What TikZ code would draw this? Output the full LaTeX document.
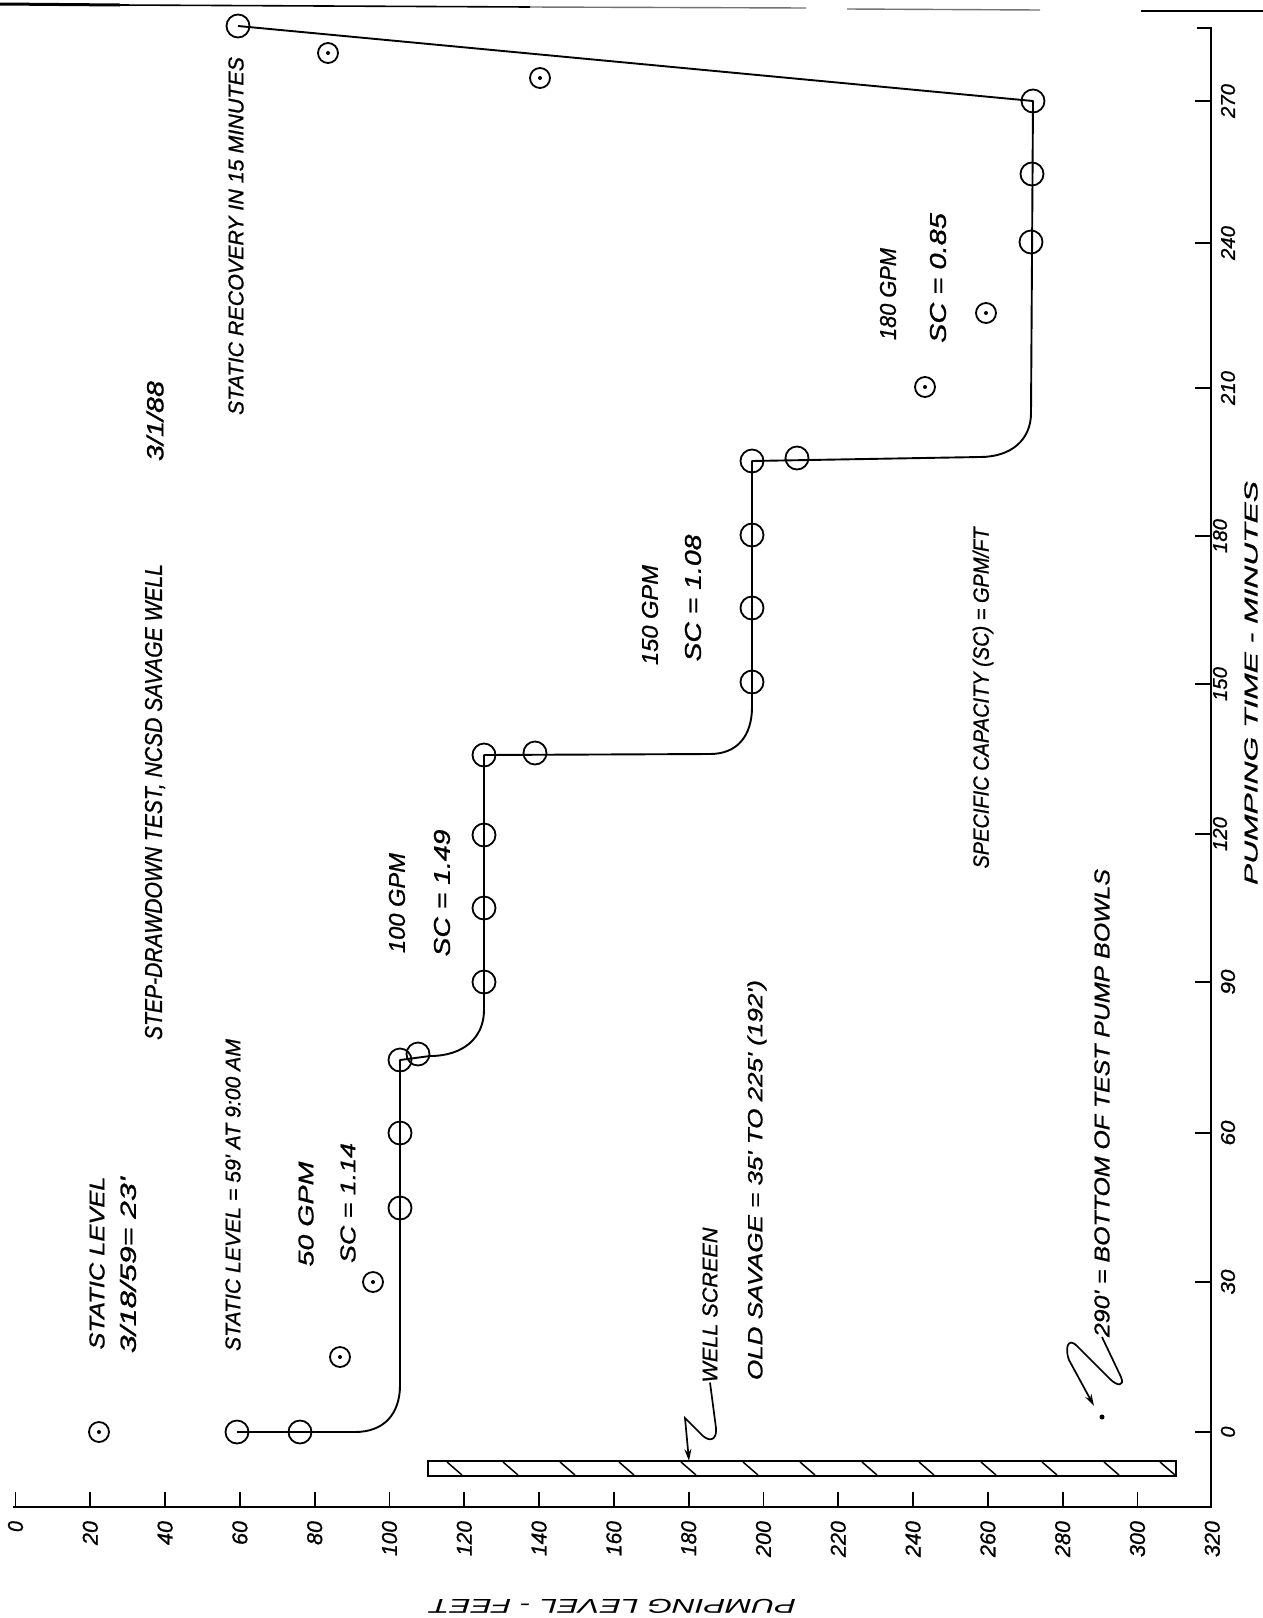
\documentclass[tikz,border=0pt]{standalone}
\usepackage{fontspec}
\usepackage{graphicx}
\setmainfont{Liberation Sans}
\newfontfamily\handfont{Liberation Sans}[FakeBold=0.9]
\usetikzlibrary{arrows.meta}
\newcommand\handtxt[3]{\resizebox{#1pt}{#2pt}{\handfont\itshape #3}}
\newcommand\plaintxt[3]{\resizebox{#1pt}{#2pt}{\itshape #3}}
\begin{document}
\begin{tikzpicture}[x=1pt,y=-1pt,
  pc/.style={circle,draw,line width=1.8pt,minimum size=23pt,inner sep=0pt},
  dc/.style={circle,draw,line width=1.8pt,minimum size=20pt,inner sep=0pt,
     path picture={\fill (path picture bounding box.center) circle (2pt);}},
  dotmark/.style={circle,fill,minimum size=5pt,inner sep=0pt},
  txt/.style={inner sep=0pt,outer sep=0pt,rotate=90},
  stepline/.style={line width=1.9pt,line join=round},
  axis/.style={line width=2.5pt},
  tick/.style={line width=1.9pt},
  hook/.style={line width=1.7pt,-{Stealth[length=12pt,width=7pt]}}]
\useasboundingbox (0,0) rectangle (1263,1618);
\fill[white] (0,0) rectangle (1263,1618);

% scan edge at top
\draw[line width=3pt] (0,4) -- (120,5);
\draw[line width=1.6pt] (120,5) -- (530,7);
\draw[line width=1.4pt,black!55] (530,7) -- (806,8);
\draw[line width=1.4pt,black!55] (847,9) -- (1040,10);
\draw[line width=2pt] (1141,11) -- (1263,11);

% axes
\draw[axis] (13,1507) -- (1211,1507) -- (1211,28) -- (1197,28);
\foreach \k in {0,...,15} {
  \draw[tick] ({15.5+74.8*\k},1492) -- ({15.5+74.8*\k},1507);
}
\foreach \v/\x/\L in {0/15.5/11,20/90.3/24,40/165.1/24,60/239.9/24,80/314.7/24,100/389.5/35,120/464.3/35,140/539.1/35,160/613.9/35,180/688.7/35,200/763.5/36,220/838.3/36,240/913.1/36,260/987.9/36,280/1062.7/36,300/1137.5/36,320/1212.3/36} {
  \node[txt,anchor=east] (lv\v) at (\x,1521) {\handtxt{\L}{15}{\v}};
}
\foreach \t/\y/\L/\xx in {0/1432/11/1228,30/1282/25/1228,60/1133/25/1228,90/982/25/1228,120/834/34/1220,150/684/34/1220,180/536/34/1220,210/388/34/1228,240/243/34/1228,270/101/34/1228} {
  \draw[tick] (1195,\y) -- (1211,\y);
  \node[txt] (tm\t) at (\xx,\y) {\handtxt{\L}{14}{\t}};
}
\node[txt] (ptime) at (1251,683) {\handtxt{404}{13}{PUMPING TIME - MINUTES}};
\node[inner sep=0pt,rotate=180] (plevel) at (613,1606) {\plaintxt{366}{14}{PUMPING LEVEL - FEET}};

% well screen bar
\draw[line width=1.8pt] (428,1461) rectangle (1176,1476);
\foreach \x in {447,503,560,619,681,743,800,862,919,981,1042,1104,1160} {
  \draw[line width=1.5pt] (\x,1462) -- ({\x+15},1475);
}

% data points on the step curve
\node[pc] (p1) at (237,1432) {};
\node[pc] (p2) at (300,1432) {};
\node[pc] (p3) at (400,1208) {};
\node[pc] (p4) at (400,1133) {};
\node[pc] (p5) at (400,1060) {};
\node[pc] (p6) at (418,1054) {};
\node[pc] (p7) at (484,982) {};
\node[pc] (p8) at (484,908) {};
\node[pc] (p9) at (484,835) {};
\node[pc] (p10) at (484,755) {};
\node[pc] (p11) at (535,753) {};
\node[pc] (p12) at (752,682) {};
\node[pc] (p13) at (752,608) {};
\node[pc] (p14) at (752,535) {};
\node[pc] (p15) at (752,461) {};
\node[pc] (p16) at (797,458) {};
\node[pc] (p17) at (1031,242) {};
\node[pc] (p18) at (1032,174) {};
\node[pc] (p19) at (1033,101) {};
\node[pc] (p20) at (238,26) {};

% isolated observations
\node[dc] (d1) at (99,1432) {};
\node[dc] (d2) at (340,1357) {};
\node[dc] (d3) at (373,1282) {};
\node[dc] (d4) at (925,387) {};
\node[dc] (d5) at (986,313) {};
\node[dc] (d6) at (328,53) {};
\node[dc] (d7) at (540,78) {};

% step-drawdown curve
\draw[stepline] (p1.center) -- (355,1432) .. controls (384,1432) and (400,1414) .. (400,1385)
  -- (p5.center) -- (430,1056) .. controls (463,1056) and (484,1038) .. (484,1010)
  -- (p10.center) -- (710,754) .. controls (738,754) and (752,735) .. (752,707)
  -- (p15.center) -- (980,457) .. controls (1011,457) and (1031,440) .. (1031,413)
  -- (p19.center) -- (p20.center);

% texts
\node[txt] (title) at (155,802) {\handtxt{476}{17}{STEP-DRAWDOWN TEST, NCSD SAVAGE WELL}};
\node[txt] (date) at (155,421) {\handtxt{80}{17}{3/1/88}};
\node[txt] (sl1) at (97,1263) {\handtxt{173}{15}{STATIC LEVEL}};
\node[txt] (sl2) at (128,1265) {\handtxt{176}{16}{3/18/59= 23'}};
\node[txt] (sl3) at (233,1195) {\handtxt{312}{15}{STATIC LEVEL = 59' AT 9:00 AM}};
\node[txt] (g50) at (306,1214) {\handtxt{105}{15}{50 GPM}};
\node[txt] (sc50) at (348,1203) {\handtxt{120}{15}{SC = 1.14}};
\node[txt] (g100) at (397,903) {\handtxt{100}{16}{100 GPM}};
\node[txt] (sc100) at (442,893) {\handtxt{127}{16}{SC = 1.49}};
\node[txt] (g150) at (650,615) {\handtxt{100}{16}{150 GPM}};
\node[txt] (sc150) at (693,598) {\handtxt{127}{16}{SC = 1.08}};
\node[txt] (g180) at (888,294) {\handtxt{92}{16}{180 GPM}};
\node[txt] (sc180) at (938,278) {\handtxt{130}{16}{SC = 0.85}};
\node[txt] (rec) at (236,236) {\handtxt{358}{15}{STATIC RECOVERY IN 15 MINUTES}};
\node[txt] (spec) at (983,698) {\handtxt{341}{16}{SPECIFIC CAPACITY (SC) = GPM/FT}};
\node[txt] (ws) at (710,1305) {\handtxt{155}{15}{WELL SCREEN}};
\node[txt] (old) at (757,1180) {\handtxt{400}{15}{OLD SAVAGE = 35' TO 225' (192')}};
\node[txt] (bowls) at (1102,1103) {\handtxt{468}{15}{290' = BOTTOM OF TEST PUMP BOWLS}};

% leader arrows
\coordinate (scr) at (689,1461);
\draw[hook] (ws.west) -- (716,1428) .. controls (717,1440) and (710,1442) .. (703,1436) -- (685,1418) -- (scr);
\coordinate (pb) at (1094,1406);
\node[dotmark] (pbdot) at (1102,1417) {};
\draw[hook] (bowls.west) -- (1121,1377) .. controls (1125,1387) and (1117,1386) .. (1110,1379)
  -- (1077,1346) .. controls (1067,1336) and (1065,1350) .. (1069,1360) -- (pb);
\end{tikzpicture}
\end{document}
